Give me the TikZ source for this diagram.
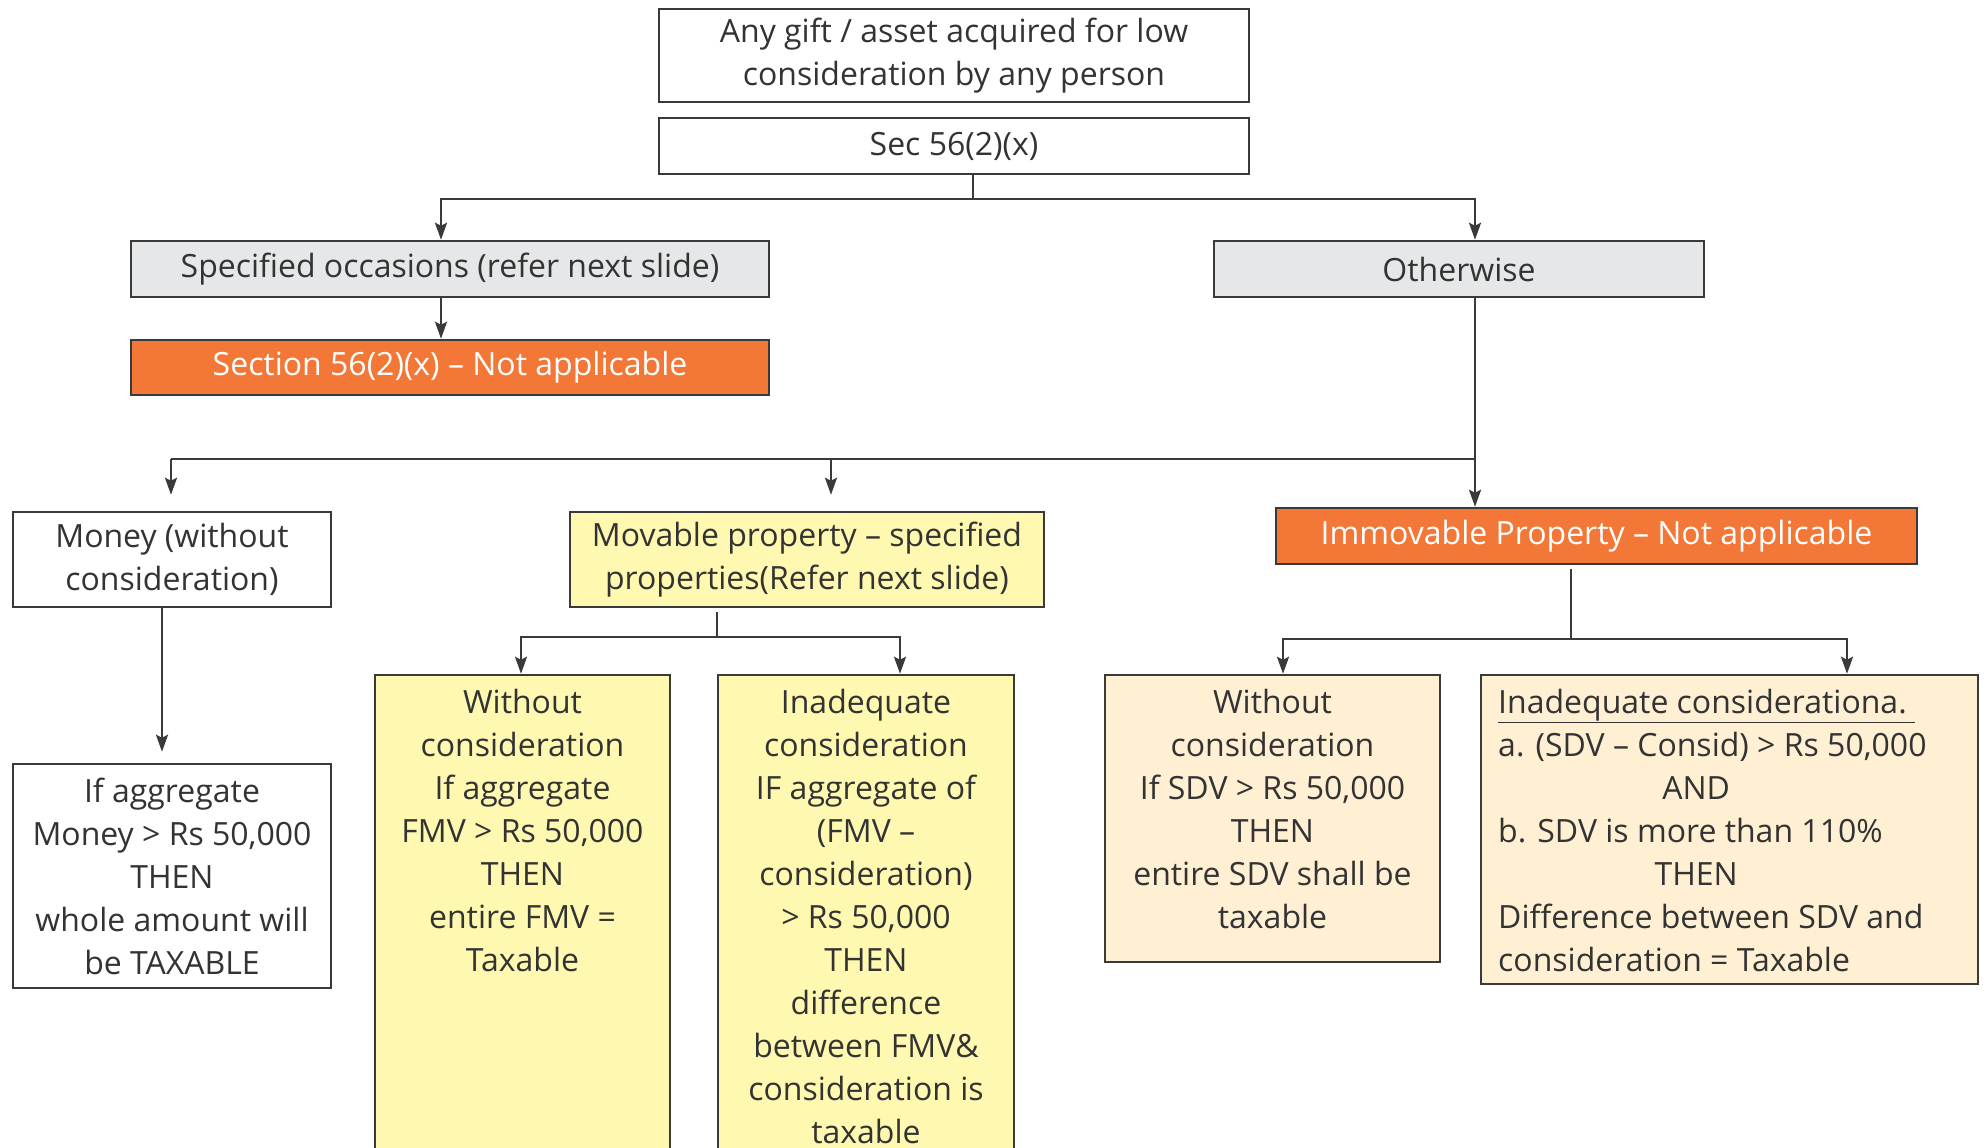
\documentclass[tikz,border=0pt]{standalone}
\usepackage{fontspec}
\setmainfont{Open Sans}
\usetikzlibrary{arrows.meta}
\definecolor{lncol}{HTML}{3A3A3A}
\definecolor{grayfill}{HTML}{E6E7E8}
\definecolor{orangefill}{HTML}{F37736}
\definecolor{yellowfill}{HTML}{FFF8B0}
\definecolor{beigefill}{HTML}{FFEFD3}
\definecolor{txtcol}{HTML}{333333}
\begin{document}
\begin{tikzpicture}[x=1pt,y=-1pt,
  box/.style={draw=lncol, line width=2.5pt, rectangle, inner sep=0pt,
    font=\fontsize{32}{43}\selectfont, text=txtcol, align=center},
  txt/.style={inner sep=0pt, font=\fontsize{32}{43}\selectfont, text=txtcol, align=center},
  conn/.style={draw=lncol, line width=2.4pt},
  arr/.style={conn, -{Stealth[length=17pt,width=12pt,inset=3pt]}},
  gray/.style={box, fill=grayfill},
  orng/.style={box, fill=orangefill, text=white},
  yell/.style={box, fill=yellowfill},
  beig/.style={box, fill=beigefill}]
\useasboundingbox (0,0) rectangle (1987,1148);
\clip (0,0) rectangle (1987,1148);
\fill[white] (0,0) rectangle (1987,1148);
% boxes
\node[box, minimum width=590pt, minimum height=93pt] (top) at (954,55.5)
  {Any gift / asset acquired for low\\consideration by any person};
\node[box, minimum width=590pt, minimum height=56pt] (sec) at (954,146) {Sec 56(2)(x)};
\node[gray, minimum width=638pt, minimum height=56pt] (spec) at (450,269)
  {Specified occasions (refer next slide)};
\node[orng, minimum width=638pt, minimum height=55pt] (na56) at (450,367.5)
  {Section 56(2)(x) – Not applicable};
\node[gray, minimum width=490pt, minimum height=56pt] (other) at (1459,269) {Otherwise};
\node[box, minimum width=318pt, minimum height=95pt] (money) at (172,559.5)
  {Money (without\\consideration)};
\node[yell, minimum width=474pt, minimum height=95pt] (movable) at (807,559.5)
  {Movable property – specified\\properties(Refer next slide)};
\node[orng, minimum width=641pt, minimum height=56pt] (immov) at (1596.5,536)
  {Immovable Property – Not applicable};
\node[box, minimum width=318pt, minimum height=224pt] (ifagg) at (172,876)
  {If aggregate\\Money > Rs 50,000\\THEN\\whole amount will\\be TAXABLE};
\node[yell, minimum width=295pt, minimum height=525pt] (wcm) at (522.5,937.5) {};
\node[txt, anchor=north] (wcmtext) at (522.5,689)
  {Without\\consideration\\If aggregate\\FMV > Rs 50,000\\THEN\\entire FMV =\\Taxable};
\node[yell, minimum width=296pt, minimum height=525pt] (inm) at (866,937.5) {};
\node[txt, anchor=north] (inmtext) at (866,689)
  {Inadequate\\consideration\\IF aggregate of\\(FMV –\\consideration)\\> Rs 50,000\\THEN\\difference\\between FMV\&\\consideration is\\taxable};
\node[beig, minimum width=335pt, minimum height=287pt] (wcs) at (1272.5,818.5) {};
\node[txt, anchor=north] (wcstext) at (1272.5,689)
  {Without\\consideration\\If SDV > Rs 50,000\\THEN\\entire SDV shall be\\taxable};
\node[beig, minimum width=497pt, minimum height=309pt] (ins) at (1729.5,829.5) {};
\node[txt, anchor=north west, align=left] (instext) at (1498,689)
  {\underline{Inadequate considerationa.\ }\\
   a. (SDV – Consid) > Rs 50,000\\
   \makebox[396pt][c]{AND}\\
   b. SDV is more than 110\%\\
   \makebox[396pt][c]{THEN}\\
   Difference between SDV and\\
   consideration = Taxable};
% connectors
\coordinate (j1) at (973,199);
\coordinate (j1l) at (441,199);
\coordinate (j1r) at (1475,199);
\draw[conn] (sec.south -| j1) -- (j1);
\draw[arr] (j1) -- (j1l) -- (j1l |- spec.north);
\draw[arr] (j1) -- (j1r) -- (j1r |- other.north);
\draw[arr] (spec.south -| j1l) -- (na56.north -| j1l);
\coordinate (j2) at (1475,459);
\coordinate (j2a) at (171,459);
\coordinate (j2b) at (831,459);
\draw[arr] (other.south -| j2) -- (immov.north -| j2);
\draw[conn] (j2) -- (j2a);
\draw[arr, shorten >=16pt] (j2a) -- (j2a |- money.north);
\draw[arr, shorten >=16pt] (j2b) -- (j2b |- movable.north);
\coordinate (mx) at (162,0);
\draw[arr, shorten >=11pt] (mx |- money.south) -- (mx |- ifagg.north);
\coordinate (j3) at (717,637);
\coordinate (j3a) at (521,637);
\coordinate (j3b) at (900,637);
\draw[conn] ([yshift=-4pt]movable.south -| j3) -- (j3);
\draw[arr] (j3) -- (j3a) -- (j3a |- wcm.north);
\draw[arr] (j3) -- (j3b) -- (j3b |- inm.north);
\coordinate (j4) at (1571,639);
\coordinate (j4a) at (1283,639);
\coordinate (j4b) at (1847,639);
\draw[conn] ([yshift=-4pt]immov.south -| j4) -- (j4);
\draw[arr] (j4) -- (j4a) -- (j4a |- wcs.north);
\draw[arr] (j4) -- (j4b) -- (j4b |- ins.north);
\end{tikzpicture}
\end{document}
